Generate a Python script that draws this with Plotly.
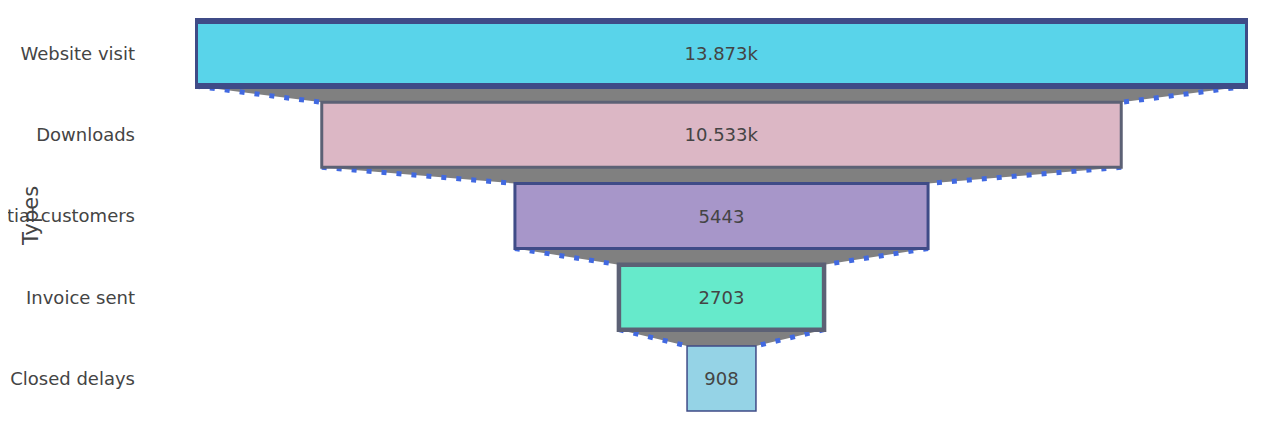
import plotly.graph_objects as go

stages = ["Website visit", "Downloads", "Potential customers", "Invoice sent", "Closed delays"]
values = [13873, 10533, 5443, 2703, 908]
fill_colors = ["#59D4EA", "#DCB7C5", "#A796C9", "#66EACB", "#95D3E6"]
line_colors = ["#3F4B87", "#5C6175", "#3F4B87", "#5C6175", "#3F4B87"]
line_widths = [6, 3, 3, 4.5, 1.5]
axis_title = "Types"

half = max(values) / 2

fig = go.Figure(go.Funnel(
    y=stages,
    x=values,
    textposition="inside",
    textinfo="value",
    textfont=dict(family="DejaVu Sans", size=18, color="#444"),
    marker=dict(color=fill_colors, line=dict(width=line_widths, color=line_colors)),
    connector=dict(fillcolor="gray", line=dict(color="royalblue", dash="5px,10px", width=5)),
))

fig.update_layout(
    template="none",
    width=1245,
    height=422,
    margin=dict(l=187, r=5, t=5, b=11),
    paper_bgcolor="white",
    plot_bgcolor="white",
    font=dict(family="DejaVu Sans", size=18, color="#444"),
    showlegend=False,
    xaxis=dict(range=[-half, half], visible=False, showgrid=False, zeroline=False),
    yaxis=dict(showgrid=False, zeroline=False, ticks="", automargin=False, ticklabelstandoff=59),
    annotations=[dict(text=axis_title, textangle=-90, xref="paper", yref="paper",
                      x=-0.1557, y=0.5, xanchor="center", yanchor="middle",
                      showarrow=False, font=dict(size=21, color="#444"))],
)

fig.write_html("out.html")
